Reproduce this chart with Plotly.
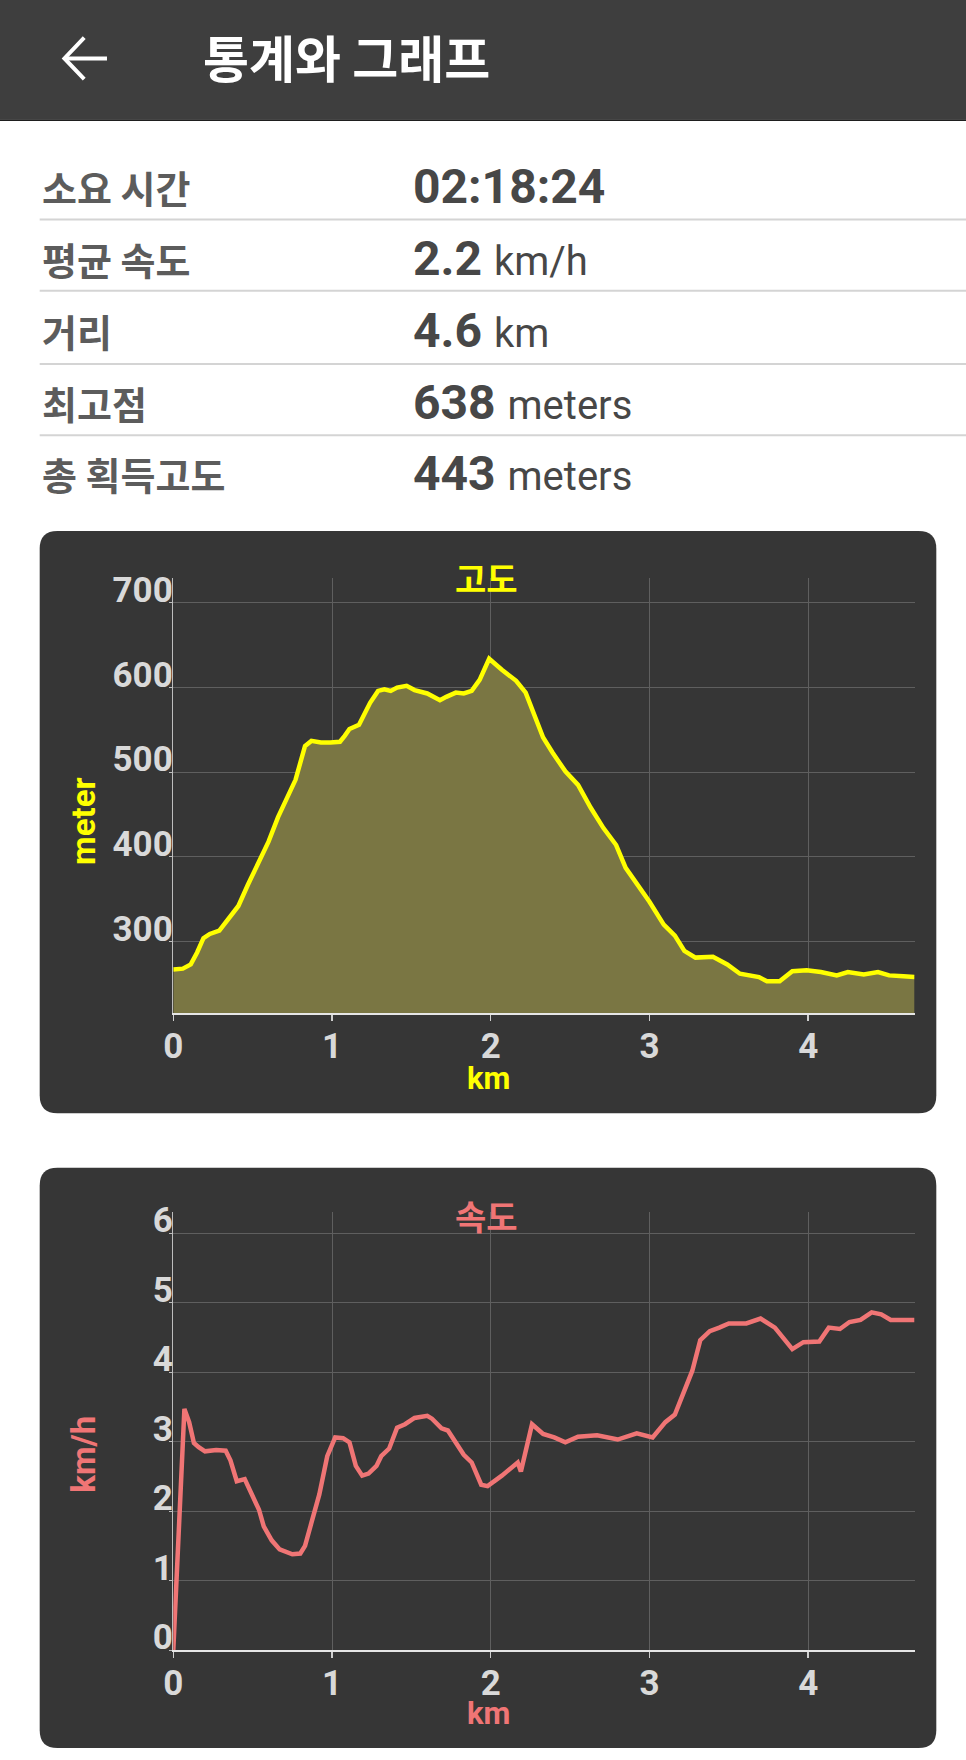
import plotly.graph_objects as go

# final page size; the figure is first drawn slightly smaller so it fits inside the
# default page margins, then grown to the full page once the margins are removed
W, H = 966, 1760
INIT_W, INIT_H = 950, 1744

# ---------------- data ----------------
page_title = "통계와 그래프"
stat_labels = ["소요 시간", "평균 속도", "거리", "최고점", "총 획득고도"]
stat_values = ["02:18:24", "2.2", "4.6", "638", "443"]
stat_units = ["", "km/h", "km", "meters", "meters"]

elev_title = "고도"
elev_ytitle = "meter"
speed_title = "속도"
speed_ytitle = "km/h"
x_title = "km"

x_ticks = [0, 1, 2, 3, 4]
elev_yticks = [300, 400, 500, 600, 700]
speed_yticks = [0, 1, 2, 3, 4, 5, 6]

elev_km = [0.00, 0.06, 0.11, 0.15, 0.19, 0.23, 0.29, 0.35, 0.41, 0.47, 0.54, 0.60, 0.66,
           0.72, 0.77, 0.80, 0.83, 0.87, 0.93, 0.99, 1.05, 1.08, 1.11, 1.17, 1.20, 1.24,
           1.29, 1.33, 1.37, 1.41, 1.47, 1.52, 1.60, 1.68, 1.72, 1.78, 1.83, 1.88, 1.93,
           1.99, 2.07, 2.16, 2.22, 2.28, 2.33, 2.39, 2.47, 2.55, 2.63, 2.71, 2.79, 2.85,
           2.92, 3.00, 3.09, 3.16, 3.22, 3.29, 3.40, 3.49, 3.57, 3.69, 3.74, 3.82, 3.90,
           3.99, 4.08, 4.18, 4.25, 4.35, 4.44, 4.51, 4.60, 4.67]
elev_m = [267, 268, 273, 287, 304, 309, 313, 327, 342, 367, 393, 418, 447,
          471, 491, 511, 531, 537, 535, 535, 536, 543, 551, 556, 567, 582,
          596, 598, 596, 600, 602, 597, 593, 585, 589, 594, 593, 596, 609,
          634, 621, 608, 594, 565, 541, 523, 501, 485, 458, 434, 414, 387,
          369, 347, 320, 307, 289, 281, 282, 273, 262, 258, 253, 253, 265,
          266, 264, 260, 264, 261, 264, 260, 259, 258]

speed_km = [0.00, 0.07, 0.10, 0.13, 0.16, 0.20, 0.27, 0.33, 0.36, 0.40, 0.45, 0.49, 0.54,
            0.57, 0.62, 0.67, 0.75, 0.80, 0.83, 0.87, 0.92, 0.97, 1.02, 1.07, 1.11, 1.15,
            1.19, 1.23, 1.28, 1.31, 1.36, 1.41, 1.46, 1.52, 1.60, 1.63, 1.69, 1.73, 1.77,
            1.83, 1.88, 1.94, 1.98, 2.07, 2.17, 2.19, 2.26, 2.33, 2.40, 2.47, 2.55, 2.67,
            2.80, 2.92, 3.02, 3.10, 3.16, 3.22, 3.27, 3.32, 3.38, 3.44, 3.50, 3.61, 3.70,
            3.79, 3.85, 3.90, 3.97, 4.07, 4.13, 4.20, 4.26, 4.33, 4.40, 4.46, 4.52, 4.67]
speed_kmh = [0.00, 3.47, 3.28, 2.98, 2.92, 2.86, 2.88, 2.87, 2.73, 2.43, 2.46, 2.27, 2.02,
             1.78, 1.58, 1.45, 1.38, 1.39, 1.50, 1.83, 2.24, 2.79, 3.06, 3.05, 2.99, 2.65,
             2.51, 2.54, 2.65, 2.79, 2.90, 3.20, 3.25, 3.34, 3.37, 3.33, 3.19, 3.16, 3.01,
             2.81, 2.70, 2.38, 2.36, 2.51, 2.70, 2.57, 3.25, 3.11, 3.06, 2.99, 3.07, 3.09,
             3.03, 3.12, 3.06, 3.28, 3.39, 3.72, 4.02, 4.46, 4.59, 4.64, 4.70, 4.70, 4.77,
             4.64, 4.48, 4.33, 4.43, 4.44, 4.64, 4.62, 4.72, 4.75, 4.86, 4.83, 4.75, 4.75]

# ---------------- styles ----------------
YELLOW = "#ffff00"
SALMON = "#f07575"
CARD = "#363636"
TICKC = "#d9d9d9"
FONT = "Roboto, 'Noto Sans CJK KR', sans-serif"
KFONT = "'Noto Sans CJK KR', Roboto, sans-serif"


def px(x):
    return x / W


def py(y):
    return 1 - y / H


def rounded_path(x0, y0, x1, y1, r):
    pts = [("M", [(x0 + r, y0)]), ("L", [(x1 - r, y0)]), ("Q", [(x1, y0), (x1, y0 + r)]),
           ("L", [(x1, y1 - r)]), ("Q", [(x1, y1), (x1 - r, y1)]), ("L", [(x0 + r, y1)]),
           ("Q", [(x0, y1), (x0, y1 - r)]), ("L", [(x0, y0 + r)]), ("Q", [(x0, y0), (x0 + r, y0)])]
    s = ""
    for cmd, ps in pts:
        s += cmd + " " + " ".join(f"{px(a):.5f},{py(b):.5f}" for a, b in ps) + " "
    return s + "Z"


fig = go.Figure()

fig.add_trace(go.Scatter(
    x=elev_km, y=elev_m, mode="lines", fill="tozeroy", fillcolor="#7a7643",
    line=dict(color=YELLOW, width=4.5), xaxis="x", yaxis="y", hoverinfo="skip"))
fig.add_trace(go.Scatter(
    x=speed_km, y=speed_kmh, mode="lines",
    line=dict(color=SALMON, width=4.5), xaxis="x2", yaxis="y2", hoverinfo="skip"))

xdom = [px(165), px(914)]
common_x = dict(range=[0, 4.67], tickvals=x_ticks, showgrid=True, gridcolor="#5f5f5f",
                gridwidth=1, zeroline=False, showline=True, linecolor="#e6e6e6", linewidth=1.5,
                ticks="outside", ticklen=6, tickcolor="#cfcfcf", tickwidth=1.5,
                tickfont=dict(family=FONT, size=35, color=TICKC, weight="bold"),
                ticklabelstandoff=-5, fixedrange=True)
common_y = dict(showgrid=True, gridcolor="#5f5f5f", gridwidth=1, zeroline=False,
                showline=True, linecolor="#bdbdbd", linewidth=1.5,
                ticks="outside", ticklen=3, tickcolor="#bdbdbd",
                tickfont=dict(family=FONT, size=35, color=TICKC, weight="bold"),
                ticklabelshift=-13, ticklabelstandoff=-11, fixedrange=True)

fig.update_layout(
    width=INIT_W, height=INIT_H, margin=dict(l=0, r=0, t=0, b=0),
    paper_bgcolor="white", plot_bgcolor="rgba(0,0,0,0)", showlegend=False,
    xaxis=dict(domain=xdom, anchor="y", **common_x),
    yaxis=dict(domain=[py(1013), py(572)], anchor="x", range=[215, 730],
               tickvals=elev_yticks, **common_y),
    xaxis2=dict(domain=xdom, anchor="y2", **common_x),
    yaxis2=dict(domain=[py(1657), py(1214)], anchor="x2", range=[0, 6.3],
                tickvals=speed_yticks, **common_y),
)

shapes = []
# header bar
shapes.append(dict(type="rect", xref="paper", yref="paper", x0=-0.02, x1=1.02, y0=py(109), y1=1.02,
                   fillcolor="#3e3e3e", line=dict(width=0), layer="below"))
shapes.append(dict(type="line", xref="paper", yref="paper", x0=-0.02, x1=1.02,
                   y0=py(109.5), y1=py(109.5), line=dict(color="#1e1e1e", width=1.5), layer="below"))
# back arrow
shapes.append(dict(type="line", xref="paper", yref="paper", x0=px(55), x1=px(98), y0=py(47), y1=py(47),
                   line=dict(color="white", width=4), layer="above"))
shapes.append(dict(type="path", xref="paper", yref="paper",
                   path=f"M {px(75)},{py(26)} L {px(55)},{py(47)} L {px(75)},{py(68)}",
                   line=dict(color="white", width=4), layer="above"))
# separators
for yy in [210, 282, 356, 428]:
    shapes.append(dict(type="line", xref="paper", yref="paper", x0=px(30), x1=1.02,
                       y0=py(yy), y1=py(yy), line=dict(color="#d4d4d4", width=2), layer="below"))
# cards
shapes.append(dict(type="path", xref="paper", yref="paper", path=rounded_path(30, 525, 936, 1114, 18),
                   fillcolor=CARD, line=dict(width=0), layer="below"))
shapes.append(dict(type="path", xref="paper", yref="paper", path=rounded_path(30, 1169, 936, 1756, 18),
                   fillcolor=CARD, line=dict(width=0), layer="below"))
fig.update_layout(shapes=shapes)

ann = []
ann.append(dict(text=f"<b>{page_title}</b>", x=px(193), y=py(45), xref="paper", yref="paper",
                xanchor="left", yanchor="middle", showarrow=False,
                font=dict(family=KFONT, size=50, color="white")))
row_y = [177, 249, 322, 395, 467]
for lab, val, unit, yy in zip(stat_labels, stat_values, stat_units, row_y):
    ann.append(dict(text=f"<b>{lab}</b>", x=px(30), y=py(yy), xref="paper", yref="paper",
                    xanchor="left", yanchor="middle", showarrow=False,
                    font=dict(family=KFONT, size=38, color="#5c5c5c")))
    txt = f"<b>{val}</b>"
    if unit:
        txt += f" <span style='font-size:40px'>{unit}</span>"
    ann.append(dict(text=txt, x=px(405), y=py(yy), xref="paper", yref="paper",
                    xanchor="left", yanchor="middle", showarrow=False,
                    font=dict(family=FONT, size=48, color="#474747")))

# chart titles & axis titles
for title, ytitle, color, ty, yty, xty in [
        (elev_title, elev_ytitle, YELLOW, 572, 819, 1079),
        (speed_title, speed_ytitle, SALMON, 1217, 1459, 1721)]:
    ann.append(dict(text=f"<b>{title}</b>", x=px(481), y=py(ty), xref="paper", yref="paper",
                    xanchor="center", yanchor="middle", showarrow=False,
                    font=dict(family=KFONT, size=34, color=color)))
    ann.append(dict(text=f"<b>{ytitle}</b>", x=px(74), y=py(yty), xref="paper", yref="paper",
                    xanchor="center", yanchor="middle", showarrow=False, textangle=-90,
                    font=dict(family=FONT, size=33, color=color)))
    ann.append(dict(text=f"<b>{x_title}</b>", x=px(484), y=py(xty), xref="paper", yref="paper",
                    xanchor="center", yanchor="middle", showarrow=False,
                    font=dict(family=FONT, size=31, color=color)))
fig.update_layout(annotations=ann)

fig.write_html(
    "out.html",
    config={"displayModeBar": False, "staticPlot": True},
    post_script=(
        "document.documentElement.style.margin='0';"
        "document.body.style.setProperty('margin','0','important');"
        "document.body.style.setProperty('padding','0','important');"
        "document.documentElement.style.overflow='hidden';"
        f"return Plotly.relayout('{{plot_id}}', {{width: {W}, height: {H}}});"
    ),
)
